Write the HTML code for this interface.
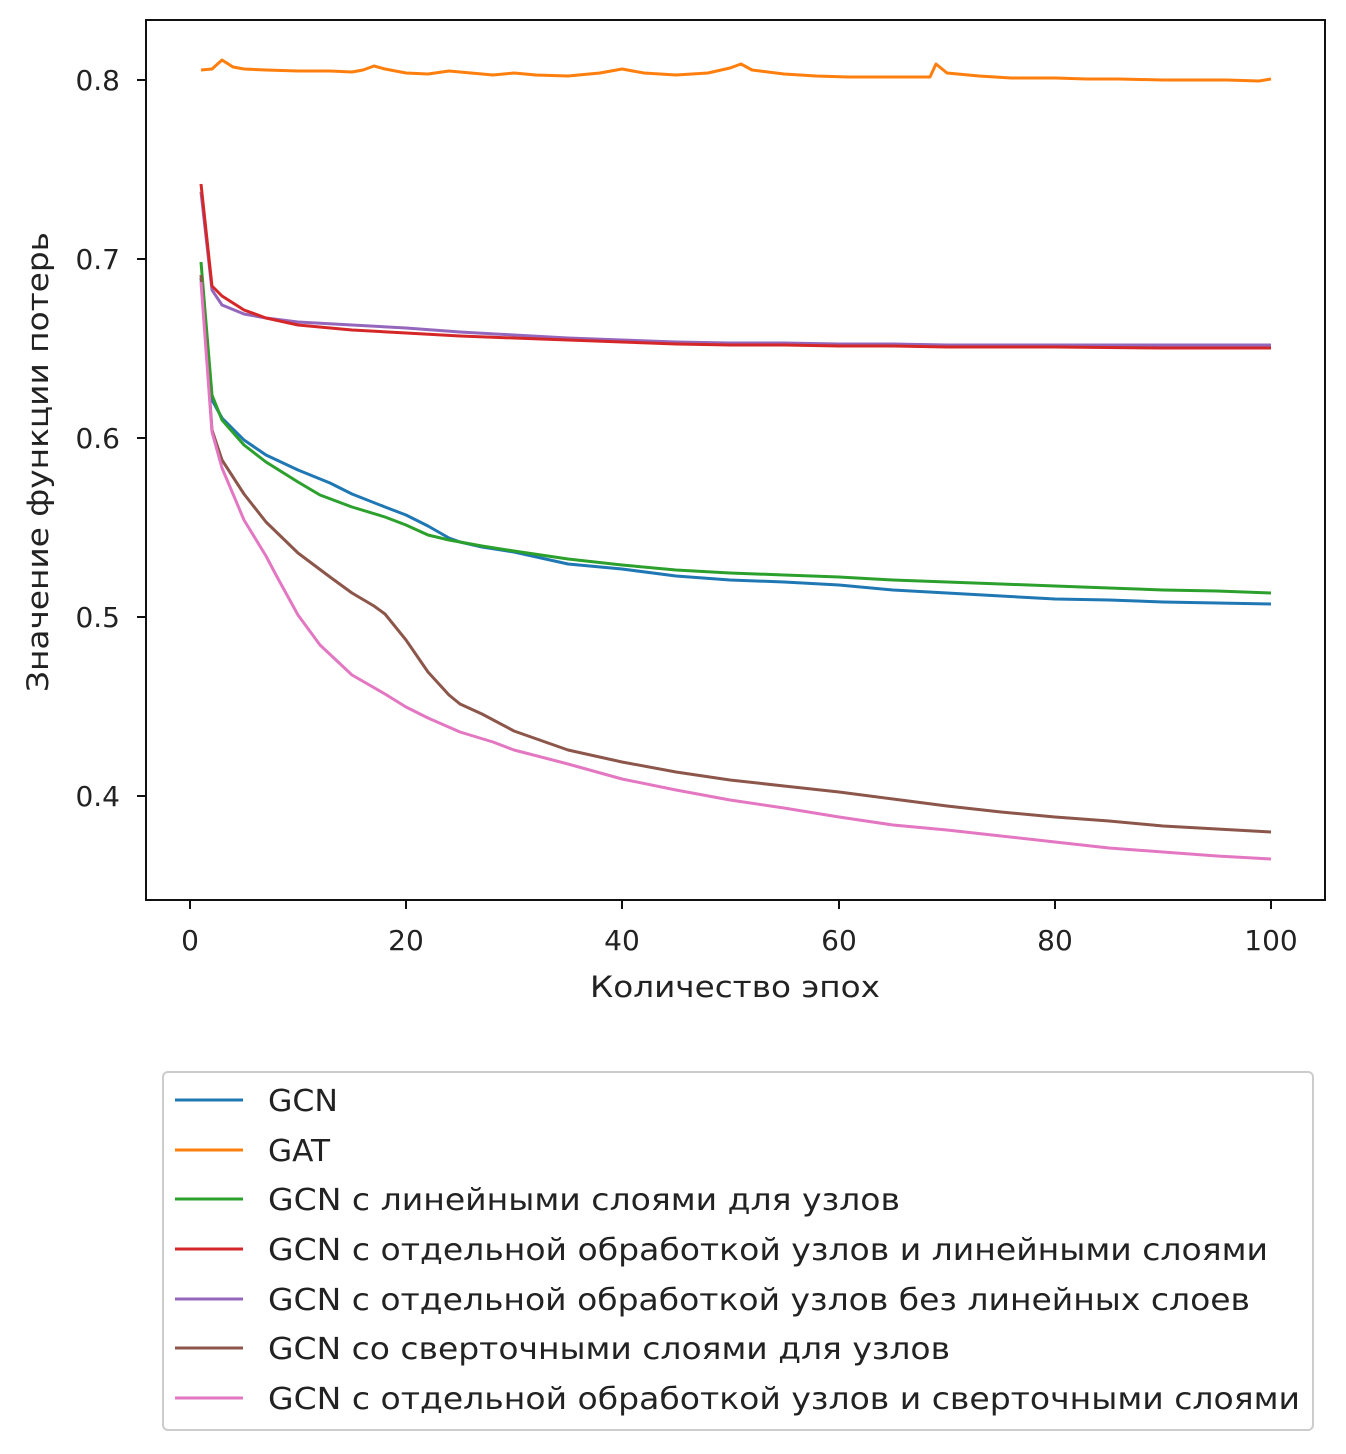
<!DOCTYPE html>
<html><head><meta charset="utf-8"><style>body{margin:0;background:#fff}svg{display:block}text{font-family:"DejaVu Sans","Liberation Sans",sans-serif;fill:#222}</style></head><body>
<svg width="1346" height="1454" viewBox="0 0 1346 1454" xmlns="http://www.w3.org/2000/svg">
<rect x="0" y="0" width="1346" height="1454" fill="#fff"/>
<g fill="none" stroke-width="3" stroke-linejoin="round">
<polyline stroke="#ff7f0e" points="201,70 212,69 222,60 233,67 244,69 266,70 298,71 330,71 352,72 363,70 374,66 385,69 406,73 428,74 449,71 471,73 493,75 514,73 536,75 568,76 600,73 622,69 644,73 676,75 708,73 730,68 741,64 752,70 784,74 816,76 848,77 880,77 912,77 930,77 936,64 947,73 979,76 1011,78 1055,78 1087,79 1119,79 1163,80 1195,80 1227,80 1259,81 1271,79"/>
<polyline stroke="#1f77b4" points="201,278 212,400 222,418 244,440 266,455 298,470 330,483 352,494 385,507 406,515 428,526 449,538 460,542 482,547 514,552 568,564 622,569 676,576 730,580 784,582 839,585 893,590 947,593 1001,596 1055,599 1109,600 1163,602 1217,603 1271,604"/>
<polyline stroke="#2ca02c" points="201,262 212,395 222,420 244,445 266,462 298,482 320,495 352,507 385,517 406,525 428,535 449,540 482,546 514,551 568,559 622,565 676,570 730,573 784,575 839,577 893,580 947,582 1001,584 1055,586 1109,588 1163,590 1217,591 1271,593"/>
<polyline stroke="#9467bd" points="201,192 212,290 222,305 244,314 266,318 298,322 352,325 406,328 460,332 514,335 568,338 622,340 676,342 730,343 784,343 839,344 893,344 947,345 1055,345 1163,345 1271,345"/>
<polyline stroke="#d62728" points="201,184 212,286 222,296 244,310 266,318 298,325 352,330 406,333 460,336 514,338 568,340 622,342 676,344 730,345 784,345 839,346 893,346 947,347 1055,347 1163,348 1271,348"/>
<polyline stroke="#8c564b" points="201,275 212,430 222,460 244,494 266,522 298,553 330,577 352,593 374,606 385,614 406,640 428,672 449,695 460,704 482,714 514,731 568,750 622,762 676,772 730,780 784,786 839,792 893,799 947,806 1001,812 1055,817 1109,821 1163,826 1217,829 1271,832"/>
<polyline stroke="#e377c2" points="201,282 212,432 222,468 244,520 266,556 276,575 298,615 320,645 352,675 385,694 406,707 428,718 460,732 493,742 514,750 568,764 622,779 676,790 730,800 784,808 839,817 893,825 947,830 1001,836 1055,842 1109,848 1163,852 1217,856 1271,859"/>
</g>
<rect x="146" y="20" width="1179" height="880" fill="none" stroke="#111" stroke-width="2"/>
<g stroke="#111" stroke-width="2">
<line x1="190" y1="900" x2="190" y2="909"/><line x1="406" y1="900" x2="406" y2="909"/><line x1="622" y1="900" x2="622" y2="909"/><line x1="839" y1="900" x2="839" y2="909"/><line x1="1055" y1="900" x2="1055" y2="909"/><line x1="1271" y1="900" x2="1271" y2="909"/>
<line x1="137" y1="80" x2="146" y2="80"/><line x1="137" y1="259" x2="146" y2="259"/><line x1="137" y1="438" x2="146" y2="438"/><line x1="137" y1="617" x2="146" y2="617"/><line x1="137" y1="796" x2="146" y2="796"/>
</g>
<g font-size="28" text-anchor="middle">
<text x="190" y="950">0</text><text x="406" y="950">20</text><text x="622" y="950">40</text><text x="839" y="950">60</text><text x="1055" y="950">80</text><text x="1271" y="950">100</text>
</g>
<g font-size="28" text-anchor="end">
<text x="120" y="90">0.8</text><text x="120" y="269">0.7</text><text x="120" y="448">0.6</text><text x="120" y="627">0.5</text><text x="120" y="806">0.4</text>
</g>
<text x="590" y="997" font-size="29" textLength="290" lengthAdjust="spacingAndGlyphs">Количество эпох</text>
<text transform="translate(48,692) rotate(-90)" font-size="29" textLength="460" lengthAdjust="spacingAndGlyphs">Значение функции потерь</text>
<rect x="163" y="1072" width="1150" height="358" rx="5" fill="#fff" stroke="#ccc" stroke-width="2"/>
<g stroke-width="3">
<line x1="175" y1="1100" x2="243" y2="1100" stroke="#1f77b4"/>
<line x1="175" y1="1150" x2="243" y2="1150" stroke="#ff7f0e"/>
<line x1="175" y1="1199" x2="243" y2="1199" stroke="#2ca02c"/>
<line x1="175" y1="1249" x2="243" y2="1249" stroke="#d62728"/>
<line x1="175" y1="1299" x2="243" y2="1299" stroke="#9467bd"/>
<line x1="175" y1="1348" x2="243" y2="1348" stroke="#8c564b"/>
<line x1="175" y1="1398" x2="243" y2="1398" stroke="#e377c2"/>
</g>
<g font-size="30" lengthAdjust="spacingAndGlyphs">
<text x="268" y="1111" textLength="70" lengthAdjust="spacingAndGlyphs">GCN</text>
<text x="268" y="1161" textLength="62" lengthAdjust="spacingAndGlyphs">GAT</text>
<text x="268" y="1210" textLength="632" lengthAdjust="spacingAndGlyphs">GCN с линейными слоями для узлов</text>
<text x="268" y="1260" textLength="1000" lengthAdjust="spacingAndGlyphs">GCN с отдельной обработкой узлов и линейными слоями</text>
<text x="268" y="1310" textLength="982" lengthAdjust="spacingAndGlyphs">GCN с отдельной обработкой узлов без линейных слоев</text>
<text x="268" y="1359" textLength="682" lengthAdjust="spacingAndGlyphs">GCN со сверточными слоями для узлов</text>
<text x="268" y="1409" textLength="1032" lengthAdjust="spacingAndGlyphs">GCN с отдельной обработкой узлов и сверточными слоями</text>
</g>
</svg>
</body></html>
